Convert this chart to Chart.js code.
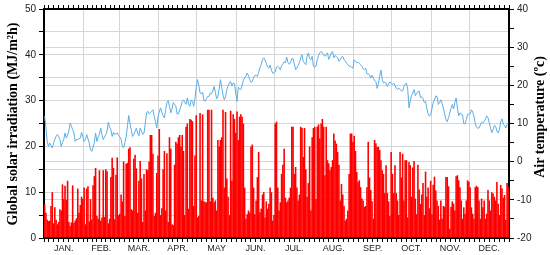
<!DOCTYPE html>
<html>
<head>
<meta charset="utf-8">
<script src="https://cdn.jsdelivr.net/npm/chart.js@4.4.1/dist/chart.umd.min.js"></script>
<style>
  body { margin: 0; background: #fff; }
  canvas { display: block; }
</style>
</head>
<body>
<canvas id="chart" width="550" height="255"></canvas>
<script>
// month names and lengths (one bar per day)
const months = ['JAN.', 'FEB.', 'MAR.', 'APR.', 'MAY', 'JUN.', 'JUL.', 'AUG.', 'SEP.', 'OCT.', 'NOV.', 'DEC.'];
const monthDays = [31, 28, 31, 30, 31, 30, 31, 31, 30, 31, 30, 31];

// daily global solar irradiation (MJ/m2h), read month by month
const solarJan = [7.3, 5.5, 4.0, 3.7, 3.8, 7.0, 10.0, 3.2, 6.7, 4.0, 3.0, 3.5, 6.3, 6.0, 11.7, 8.5, 11.4, 8.3, 12.5, 3.5, 2.6, 3.4, 11.5, 3.3, 3.8, 4.3, 10.8, 5.5, 7.2, 9.0, 8.5];
const solarFeb = [11.0, 3.0, 10.8, 11.3, 3.6, 8.5, 4.0, 11.5, 13.5, 15.3, 4.8, 4.2, 14.8, 3.8, 4.5, 14.8, 4.6, 15.0, 14.6, 3.2, 4.2, 13.3, 17.5, 15.3, 4.1, 13.8, 17.6, 5.0];
const solarMar = [5.3, 9.5, 8.0, 16.7, 4.8, 16.2, 16.4, 19.5, 19.8, 6.3, 6.0, 17.3, 18.2, 15.2, 5.5, 12.5, 16.8, 13.0, 3.5, 14.0, 6.0, 15.0, 14.8, 16.7, 22.5, 22.5, 18.4, 4.8, 5.5, 14.2, 18.0];
const solarApr = [23.8, 5.0, 6.5, 15.0, 19.0, 6.0, 18.5, 3.5, 22.0, 19.5, 3.0, 2.8, 16.0, 21.0, 20.6, 22.0, 22.5, 20.0, 22.5, 19.0, 5.0, 24.3, 25.0, 6.4, 26.0, 25.8, 25.5, 7.0, 18.0, 26.8];
const solarMay = [4.5, 4.8, 27.3, 8.2, 27.0, 8.0, 7.8, 7.8, 28.0, 28.0, 8.0, 28.0, 8.8, 7.8, 8.2, 6.0, 21.4, 20.0, 21.4, 22.0, 28.0, 11.0, 27.5, 13.0, 9.0, 5.0, 27.8, 12.5, 27.0, 26.0, 23.0];
const solarJun = [27.6, 21.4, 26.5, 27.0, 26.5, 25.0, 11.0, 4.2, 5.2, 6.0, 5.6, 20.0, 20.4, 11.0, 5.2, 8.2, 13.3, 18.8, 5.6, 6.4, 9.5, 10.0, 4.5, 8.0, 6.4, 7.5, 11.0, 10.0, 3.8, 5.0];
const solarJul = [25.0, 25.4, 11.0, 6.0, 7.8, 14.0, 16.0, 19.5, 8.8, 7.8, 8.2, 8.8, 11.0, 24.3, 24.3, 14.0, 15.5, 11.0, 8.2, 9.5, 24.3, 24.0, 17.7, 24.0, 15.0, 9.0, 12.0, 20.0, 6.0, 22.0, 24.0];
const solarAug = [24.3, 8.5, 24.3, 24.8, 21.7, 25.0, 26.0, 24.3, 13.7, 24.3, 17.0, 16.3, 14.8, 15.5, 17.0, 22.8, 21.3, 20.6, 18.8, 16.0, 8.2, 11.8, 9.5, 7.0, 3.8, 4.2, 6.0, 14.0, 22.8, 22.8, 21.0];
const solarSep = [22.3, 19.0, 14.4, 12.2, 12.6, 11.1, 8.6, 8.2, 6.8, 7.0, 11.1, 21.0, 13.2, 10.5, 8.0, 4.2, 21.4, 20.7, 19.9, 19.9, 19.2, 17.0, 14.8, 14.0, 9.8, 15.9, 9.8, 8.0, 4.8, 18.8];
const solarOct = [14.0, 9.8, 15.9, 9.8, 8.2, 5.0, 18.8, 13.2, 18.4, 8.2, 17.0, 17.0, 4.5, 16.6, 15.9, 9.0, 15.4, 16.8, 8.6, 5.2, 16.0, 10.6, 7.4, 9.5, 12.0, 5.0, 14.5, 9.0, 11.0, 6.5, 12.5];
const solarNov = [5.2, 11.6, 13.4, 10.4, 8.2, 7.0, 4.0, 8.2, 4.2, 7.0, 6.8, 13.3, 13.3, 11.3, 2.0, 6.8, 8.0, 7.5, 6.0, 13.5, 13.7, 12.6, 11.1, 8.2, 4.2, 6.7, 5.3, 8.2, 12.6, 12.3];
const solarDec = [11.1, 6.7, 5.3, 4.2, 11.1, 11.4, 11.1, 8.2, 4.2, 8.6, 6.7, 8.2, 4.2, 5.3, 10.5, 8.2, 6.0, 10.0, 9.7, 9.0, 8.2, 12.2, 7.5, 5.0, 11.6, 10.8, 8.8, 9.4, 4.0, 12.0, 11.2];

// daily air temperature (ºc)
const tempJan = [11.9, 9.0, 5.3, 4.0, 4.9, 4.2, 3.6, 4.9, 5.8, 6.6, 7.1, 6.5, 5.8, 4.0, 5.0, 5.8, 7.5, 6.2, 7.0, 8.0, 10.1, 9.3, 8.4, 7.5, 5.3, 5.8, 5.8, 6.0, 6.2, 7.7, 6.5];
const tempFeb = [5.3, 5.8, 7.1, 6.0, 4.9, 3.1, 2.7, 3.8, 4.9, 7.5, 5.3, 6.5, 7.1, 8.8, 7.1, 5.8, 6.5, 7.1, 8.0, 10.3, 9.0, 8.4, 6.6, 7.7, 7.1, 7.3, 7.5, 6.8];
const tempMar = [6.5, 5.9, 4.0, 3.6, 5.0, 6.6, 9.3, 12.1, 10.0, 8.4, 6.6, 7.1, 8.0, 8.8, 7.5, 6.8, 8.8, 8.0, 7.1, 7.5, 10.0, 12.8, 13.2, 12.5, 12.8, 13.2, 13.6, 11.9, 10.5, 8.8, 11.9];
const tempApr = [13.0, 14.1, 13.0, 12.0, 11.5, 13.6, 15.5, 16.0, 14.5, 12.8, 13.8, 15.5, 15.0, 14.5, 12.5, 12.5, 13.6, 14.5, 15.8, 16.2, 15.5, 15.0, 16.7, 15.0, 14.5, 16.2, 15.8, 14.5, 16.5, 19.5];
const tempMay = [21.5, 20.0, 18.0, 17.8, 18.2, 16.0, 15.9, 16.5, 17.1, 17.1, 18.0, 17.8, 18.5, 19.7, 18.2, 16.5, 17.0, 19.0, 21.5, 19.5, 17.5, 16.2, 17.0, 18.9, 19.8, 20.6, 21.0, 19.8, 20.6, 20.4, 18.0];
const tempJun = [15.8, 19.5, 19.0, 18.9, 20.0, 21.3, 21.9, 22.4, 23.2, 22.6, 21.5, 20.8, 21.0, 22.0, 22.6, 22.6, 22.4, 23.4, 24.7, 25.4, 26.7, 27.2, 26.6, 25.8, 24.8, 24.5, 25.3, 24.0, 23.2, 23.2];
const tempJul = [23.5, 24.8, 25.0, 24.6, 24.1, 25.2, 25.6, 26.2, 25.9, 27.4, 26.0, 25.5, 25.9, 27.0, 27.0, 25.5, 24.1, 24.6, 25.2, 26.0, 27.2, 28.0, 26.3, 25.8, 25.4, 27.6, 28.5, 27.0, 26.7, 27.6, 25.0];
const tempAug = [24.8, 25.0, 26.7, 27.8, 28.5, 28.9, 28.5, 28.0, 27.6, 28.0, 28.5, 26.8, 27.5, 28.5, 28.9, 27.2, 27.8, 27.6, 27.3, 26.3, 26.7, 27.4, 27.6, 26.7, 26.4, 25.8, 25.4, 25.0, 25.0, 24.7, 24.5];
const tempSep = [26.7, 26.3, 25.9, 26.1, 25.8, 25.4, 25.0, 24.3, 24.2, 24.5, 23.0, 23.0, 22.8, 21.9, 22.6, 22.0, 21.2, 21.0, 19.2, 20.5, 22.4, 24.0, 21.5, 20.6, 20.8, 20.6, 19.7, 20.4, 20.9, 20.5];
const tempOct = [20.2, 20.6, 20.0, 19.2, 18.9, 19.3, 18.9, 18.6, 18.5, 19.7, 20.3, 20.6, 19.0, 14.1, 16.0, 17.3, 18.0, 18.9, 17.3, 17.9, 18.4, 18.5, 16.8, 17.0, 16.5, 15.5, 15.8, 14.0, 12.5, 11.9, 12.3];
const tempNov = [13.8, 15.5, 16.2, 17.2, 17.1, 15.0, 15.5, 16.2, 15.3, 14.0, 12.5, 11.0, 10.5, 11.5, 12.7, 14.0, 15.0, 13.8, 15.5, 16.7, 14.1, 12.0, 12.8, 12.5, 12.3, 10.0, 9.9, 11.0, 12.4, 12.4];
const tempDec = [12.5, 13.6, 13.0, 11.9, 10.0, 9.0, 8.8, 8.8, 9.6, 10.3, 10.2, 10.5, 11.2, 12.0, 11.5, 10.2, 8.8, 7.6, 8.4, 9.5, 9.3, 8.0, 7.5, 8.5, 10.5, 11.2, 9.8, 9.5, 8.8, 9.8, 10.1];

const solar = [].concat(solarJan, solarFeb, solarMar, solarApr, solarMay, solarJun,
                        solarJul, solarAug, solarSep, solarOct, solarNov, solarDec);
const temperature = [].concat(tempJan, tempFeb, tempMar, tempApr, tempMay, tempJun,
                              tempJul, tempAug, tempSep, tempOct, tempNov, tempDec);
const days = solar.map((v, i) => i + 1);

// tick marks: 8 per month, month name under the middle one
const dayTicks = [];
const dayTickLabels = [];
const monthStart = [];
let start = 0;
monthDays.forEach((len, m) => {
    for (let k = 0; k < 8; k++) {
        dayTicks.push(start + k * len / 8);
        dayTickLabels.push(k === 4 ? months[m] : '');
        monthStart.push(k === 0);
    }
    start += len;
});
dayTicks.push(start);
dayTickLabels.push('');
monthStart.push(true);

const gridGrey = '#d6d6d6';
const tickFont = { family: '"Liberation Sans", Arial', size: 10 };

// draw the two rotated axis titles (both read bottom to top)
const axisTitles = {
    id: 'axisTitles',
    afterDraw(chart) {
        const c = chart.ctx;
        c.save();
        c.fillStyle = '#000';
        c.font = 'bold 14px "Liberation Serif", "Times New Roman", serif';
        c.textAlign = 'center';
        c.textBaseline = 'middle';
        c.translate(13, 124);
        c.rotate(-Math.PI / 2);
        c.fillText('Global solar irradiation (MJ/m²h)', 0, 0);
        c.restore();

        c.save();
        c.fillStyle = '#000';
        c.font = 'bold 14px "Liberation Serif", "Times New Roman", serif';
        c.textAlign = 'center';
        c.textBaseline = 'middle';
        c.translate(540, 117);
        c.rotate(-Math.PI / 2);
        c.fillText('Air temperature (ºc)', 0, 0);
        c.restore();
    }
};

new Chart(document.getElementById('chart'), {
    data: {
        labels: days,
        datasets: [
            {
                type: 'line',
                label: 'Air temperature',
                data: temperature,
                xAxisID: 'x',
                yAxisID: 'yr',
                borderColor: '#5aaee6',
                borderWidth: 1,
                pointRadius: 0,
                tension: 0
            },
            {
                type: 'bar',
                label: 'Global solar irradiation',
                data: solar,
                xAxisID: 'x',
                yAxisID: 'y',
                backgroundColor: '#ff0000',
                borderWidth: 0,
                barPercentage: 1.25, // slight overlap so antialiasing leaves no white slits
                categoryPercentage: 1
            }
        ]
    },
    plugins: [axisTitles],
    options: {
        responsive: false,
        animation: false,
        layout: { padding: 0 },
        plugins: {
            legend: { display: false },
            tooltip: { enabled: false }
        },
        scales: {
            x: {
                type: 'category',
                display: false,
                offset: true
            },
            xm: {
                type: 'linear',
                position: 'bottom',
                min: 0,
                max: 365,
                afterBuildTicks: axis => { axis.ticks = dayTicks.map(v => ({ value: v })); },
                afterFit: axis => { axis.height = 17; },
                ticks: {
                    autoSkip: false,
                    maxRotation: 0,
                    padding: 1,
                    color: '#222',
                    font: { family: '"Liberation Sans", Arial', size: 9 },
                    callback: (v, i) => dayTickLabels[i]
                },
                grid: {
                    color: ctx => (monthStart[ctx.index] ? gridGrey : 'rgba(0,0,0,0)'),
                    tickColor: '#000',
                    tickLength: 4,
                    lineWidth: 1
                },
                border: { color: '#000', width: 2 }
            },
            xt: {
                type: 'linear',
                position: 'top',
                min: 0,
                max: 365,
                afterBuildTicks: axis => { axis.ticks = dayTicks.map(v => ({ value: v })); },
                afterFit: axis => { axis.height = 9; },
                ticks: { display: false },
                grid: {
                    drawOnChartArea: false,
                    tickColor: '#000',
                    tickLength: 4
                },
                border: { color: '#000', width: 2 }
            },
            y: {
                position: 'left',
                min: 0,
                max: 50,
                afterFit: axis => { axis.width = 44; },
                ticks: {
                    stepSize: 5,
                    padding: 3,
                    color: '#222',
                    font: tickFont,
                    callback: v => (v % 10 === 0 ? v : '')
                },
                grid: {
                    color: gridGrey,
                    tickColor: '#000',
                    tickLength: 5
                },
                border: { color: '#000', width: 2 }
            },
            yr: {
                position: 'right',
                min: -20,
                max: 40,
                afterFit: axis => { axis.width = 41; },
                ticks: {
                    stepSize: 5,
                    padding: 3,
                    color: '#222',
                    font: tickFont,
                    callback: v => (v % 10 === 0 ? v : '')
                },
                grid: {
                    color: ctx => (ctx.tick && ctx.tick.value % 10 === 0 ? gridGrey : 'rgba(0,0,0,0)'),
                    tickColor: '#000',
                    tickLength: 5
                },
                border: { color: '#000', width: 2 }
            }
        }
    }
});
</script>
</body>
</html>
